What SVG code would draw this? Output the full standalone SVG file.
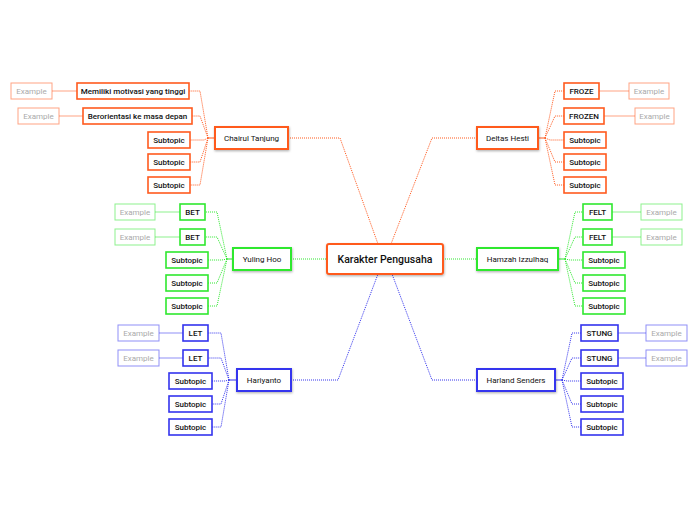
<svg xmlns="http://www.w3.org/2000/svg" width="696" height="520" viewBox="0 0 696 520">
<defs>
<filter id="sh" x="-20%" y="-30%" width="140%" height="170%">
<feDropShadow dx="0.5" dy="1.2" stdDeviation="0.8" flood-color="#000" flood-opacity="0.3"/>
</filter>
</defs>
<style>
text{font-family:Roboto,"Liberation Sans",sans-serif;text-anchor:middle;dominant-baseline:central;fill:#111}
.main{font-size:8px}
.sub{font-size:8px;font-weight:500}
.ex{font-size:8px;fill:#aaa}
.ctr{font-size:10.5px;font-weight:500}
rect{fill:#fff}
.o{stroke:#ff5a1f}
.g{stroke:#2fe82f}
.b{stroke:#3434ee}
.mt{stroke-width:2;filter:url(#sh)}
.st{stroke-width:1.6}
.et{stroke-width:1;stroke-opacity:0.55}
#connectors path{fill:none}
.dot{stroke-width:1;stroke-dasharray:1 1}
.sol{stroke-width:1.2}
.exl{stroke-width:1;stroke-opacity:0.55}
</style>
<rect x="0" y="0" width="696" height="520" fill="#fff"/>
<g id="connectors">
<path class="o dot" d="M288,138 H340 L378,244 M477,138 H432 L391,244"/>
<path class="g dot" d="M291,259 H327 M443,259 H477"/>
<path class="b dot" d="M291,380 H338 L378,274 M477,380 H432 L392,274"/>
<path class="o sol" d="M215,138 H208 M538,138 H545"/>
<path class="o dot" d="M208,138 L200,91 H189 M208,138 L200,116 H192 M208,138 L204,140 H190 M208,138 L200,162 H190 M208,138 L200,185 H190"/>
<path class="o dot" d="M545,138 L555,91 H564 M545,138 L555,116 H564 M545,138 L550,140 H564 M545,138 L555,162 H564 M545,138 L555,185 H564"/>
<path class="o exl" d="M77,91 H52 M83,116 H59 M599,91 H629 M604,116 H635"/>
<path class="g sol" d="M233,259 H227 M558,259 H565"/>
<path class="g dot" d="M227,259 L217,212 H205 M227,259 L217,237 H205 M227,259 L222,260 H208 M227,259 L217,283 H208 M227,259 L217,306 H208"/>
<path class="g dot" d="M565,259 L575,212 H583 M565,259 L575,237 H583 M565,259 L570,260 H583 M565,259 L575,283 H583 M565,259 L575,306 H583"/>
<path class="g exl" d="M180,212 H155 M180,237 H155 M612,212 H641 M612,237 H641"/>
<path class="b sol" d="M237,380 H229 M555,380 H562"/>
<path class="b dot" d="M229,380 L221,333 H208 M229,380 L221,358 H208 M229,380 L225,381 H212 M229,380 L221,404 H212 M229,380 L221,427 H212"/>
<path class="b dot" d="M562,380 L572,333 H581 M562,380 L572,358 H581 M562,380 L567,381 H581 M562,380 L572,404 H581 M562,380 L572,427 H581"/>
<path class="b exl" d="M183,333 H159 M183,358 H159 M618,333 H646 M618,358 H646"/>
</g>
<g id="center"><rect class="o mt" x="327" y="244" width="116" height="30" rx="2"/><text class="ctr" x="385" y="259">Karakter Pengusaha</text></g>

<g id="chairul"><rect class="o mt" x="215" y="127" width="73" height="22"/><text class="main" x="251.5" y="138">Chairul Tanjung</text></g>
<g id="ct-s1"><rect class="o st" x="77" y="83" width="112" height="16"/><text class="sub" x="133" y="91">Memiliki motivasi yang tinggi</text></g>
<g id="ct-s2"><rect class="o st" x="83" y="108" width="109" height="16"/><text class="sub" x="137.5" y="116">Berorientasi ke masa depan</text></g>
<g id="ct-s3"><rect class="o st" x="148" y="132" width="42" height="16"/><text class="sub" x="169" y="140">Subtopic</text></g>
<g id="ct-s4"><rect class="o st" x="148" y="154" width="42" height="16"/><text class="sub" x="169" y="162">Subtopic</text></g>
<g id="ct-s5"><rect class="o st" x="148" y="177" width="42" height="16"/><text class="sub" x="169" y="185">Subtopic</text></g>
<g id="ct-e1"><rect class="o et" x="11" y="83" width="41" height="16"/><text class="ex" x="31.5" y="91">Example</text></g>
<g id="ct-e2"><rect class="o et" x="18" y="108" width="41" height="16"/><text class="ex" x="38.5" y="116">Example</text></g>

<g id="deltas"><rect class="o mt" x="477" y="127" width="61" height="22"/><text class="main" x="507.5" y="138">Deltas Hesti</text></g>
<g id="dh-s1"><rect class="o st" x="564" y="83" width="35" height="16"/><text class="sub" x="581.5" y="91">FROZE</text></g>
<g id="dh-s2"><rect class="o st" x="564" y="108" width="40" height="16"/><text class="sub" x="584" y="116">FROZEN</text></g>
<g id="dh-s3"><rect class="o st" x="564" y="132" width="42" height="16"/><text class="sub" x="585" y="140">Subtopic</text></g>
<g id="dh-s4"><rect class="o st" x="564" y="154" width="42" height="16"/><text class="sub" x="585" y="162">Subtopic</text></g>
<g id="dh-s5"><rect class="o st" x="564" y="177" width="42" height="16"/><text class="sub" x="585" y="185">Subtopic</text></g>
<g id="dh-e1"><rect class="o et" x="629" y="83" width="40" height="16"/><text class="ex" x="649" y="91">Example</text></g>
<g id="dh-e2"><rect class="o et" x="635" y="108" width="39" height="16"/><text class="ex" x="654.5" y="116">Example</text></g>

<g id="yuling"><rect class="g mt" x="233" y="248" width="58" height="22"/><text class="main" x="262" y="259">Yuling Hoo</text></g>
<g id="yh-s1"><rect class="g st" x="180" y="204" width="25" height="16"/><text class="sub" x="192.5" y="212">BET</text></g>
<g id="yh-s2"><rect class="g st" x="180" y="229" width="25" height="16"/><text class="sub" x="192.5" y="237">BET</text></g>
<g id="yh-s3"><rect class="g st" x="166" y="252" width="42" height="16"/><text class="sub" x="187" y="260">Subtopic</text></g>
<g id="yh-s4"><rect class="g st" x="166" y="275" width="42" height="16"/><text class="sub" x="187" y="283">Subtopic</text></g>
<g id="yh-s5"><rect class="g st" x="166" y="298" width="42" height="16"/><text class="sub" x="187" y="306">Subtopic</text></g>
<g id="yh-e1"><rect class="g et" x="115" y="204" width="40" height="16"/><text class="ex" x="135" y="212">Example</text></g>
<g id="yh-e2"><rect class="g et" x="115" y="229" width="40" height="16"/><text class="ex" x="135" y="237">Example</text></g>

<g id="hamzah"><rect class="g mt" x="477" y="248" width="81" height="22"/><text class="main" x="517.5" y="259">Hamzah Izzulhaq</text></g>
<g id="hi-s1"><rect class="g st" x="583" y="204" width="29" height="16"/><text class="sub" x="597.5" y="212">FELT</text></g>
<g id="hi-s2"><rect class="g st" x="583" y="229" width="29" height="16"/><text class="sub" x="597.5" y="237">FELT</text></g>
<g id="hi-s3"><rect class="g st" x="583" y="252" width="42" height="16"/><text class="sub" x="604" y="260">Subtopic</text></g>
<g id="hi-s4"><rect class="g st" x="583" y="275" width="42" height="16"/><text class="sub" x="604" y="283">Subtopic</text></g>
<g id="hi-s5"><rect class="g st" x="583" y="298" width="42" height="16"/><text class="sub" x="604" y="306">Subtopic</text></g>
<g id="hi-e1"><rect class="g et" x="641" y="204" width="41" height="16"/><text class="ex" x="661.5" y="212">Example</text></g>
<g id="hi-e2"><rect class="g et" x="641" y="229" width="41" height="16"/><text class="ex" x="661.5" y="237">Example</text></g>

<g id="hariyanto"><rect class="b mt" x="237" y="369" width="54" height="22"/><text class="main" x="264" y="380">Hariyanto</text></g>
<g id="hy-s1"><rect class="b st" x="183" y="325" width="25" height="16"/><text class="sub" x="195.5" y="333">LET</text></g>
<g id="hy-s2"><rect class="b st" x="183" y="350" width="25" height="16"/><text class="sub" x="195.5" y="358">LET</text></g>
<g id="hy-s3"><rect class="b st" x="169" y="373" width="43" height="16"/><text class="sub" x="190.5" y="381">Subtopic</text></g>
<g id="hy-s4"><rect class="b st" x="169" y="396" width="43" height="16"/><text class="sub" x="190.5" y="404">Subtopic</text></g>
<g id="hy-s5"><rect class="b st" x="169" y="419" width="43" height="16"/><text class="sub" x="190.5" y="427">Subtopic</text></g>
<g id="hy-e1"><rect class="b et" x="118" y="325" width="41" height="16"/><text class="ex" x="138.5" y="333">Example</text></g>
<g id="hy-e2"><rect class="b et" x="118" y="350" width="41" height="16"/><text class="ex" x="138.5" y="358">Example</text></g>

<g id="harland"><rect class="b mt" x="477" y="369" width="78" height="22"/><text class="main" x="516" y="380">Harland Senders</text></g>
<g id="hs-s1"><rect class="b st" x="581" y="325" width="37" height="16"/><text class="sub" x="599.5" y="333">STUNG</text></g>
<g id="hs-s2"><rect class="b st" x="581" y="350" width="37" height="16"/><text class="sub" x="599.5" y="358">STUNG</text></g>
<g id="hs-s3"><rect class="b st" x="581" y="373" width="42" height="16"/><text class="sub" x="602" y="381">Subtopic</text></g>
<g id="hs-s4"><rect class="b st" x="581" y="396" width="42" height="16"/><text class="sub" x="602" y="404">Subtopic</text></g>
<g id="hs-s5"><rect class="b st" x="581" y="419" width="42" height="16"/><text class="sub" x="602" y="427">Subtopic</text></g>
<g id="hs-e1"><rect class="b et" x="646" y="325" width="41" height="16"/><text class="ex" x="666.5" y="333">Example</text></g>
<g id="hs-e2"><rect class="b et" x="646" y="350" width="41" height="16"/><text class="ex" x="666.5" y="358">Example</text></g>
</svg>
